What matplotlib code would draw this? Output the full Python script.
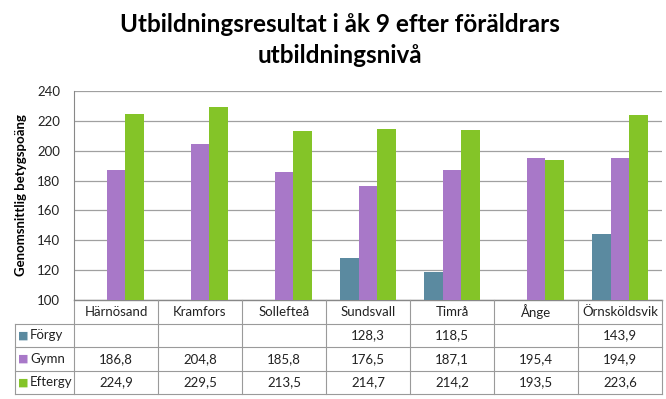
import matplotlib.pyplot as plt
import matplotlib.transforms as mtransforms
import numpy as np

# Data
kommuner = ['Härnösand', 'Kramfors', 'Sollefteå', 'Sundsvall', 'Timrå', 'Ånge', 'Örnsköldsvik']
forgy = [np.nan, np.nan, np.nan, 128.3, 118.5, np.nan, 143.9]
gymn = [186.8, 204.8, 185.8, 176.5, 187.1, 195.4, 194.9]
eftergy = [224.9, 229.5, 213.5, 214.7, 214.2, 193.5, 223.6]
serier = ['Förgy', 'Gymn', 'Eftergy']
farger = ['#5B8AA0', '#A878C8', '#84C428']

plt.rcParams['font.family'] = ['Lato', 'DejaVu Sans']

fig = plt.figure(figsize=(6.66, 3.99), dpi=100)
ax = fig.add_axes([74/666, 1 - 300/399, 588/666, 209/399])

x = np.arange(len(kommuner))
w = 0.22
for i, (vals, col) in enumerate(zip([forgy, gymn, eftergy], farger)):
	ax.bar(x + (i - 1) * w, vals, width=w, color=col, bottom=0, zorder=3)

ax.set_xlim(-0.5, len(kommuner) - 0.5)
ax.set_ylim(100, 240)
ax.set_yticks(np.arange(100, 241, 20))
ax.yaxis.grid(True, color='#a0a0a0', linewidth=0.9, zorder=0)
for s in ['top', 'right', 'bottom']:
	ax.spines[s].set_visible(False)
ax.spines['left'].set_color('#888888')
ax.set_xticks([])
ax.tick_params(axis='y', length=0, labelsize=9.5, pad=10, labelcolor='#222222')
ax.set_ylabel('Genomsnittlig betygspoäng', fontsize=9.5, fontweight='bold')
ax.yaxis.set_label_coords(-0.08, 0.5)

# Data table under the chart
trans = mtransforms.blended_transform_factory(ax.transData, ax.transAxes)
rad_h = 23.5 / 209
rader = [0, -rad_h, -2 * rad_h, -3 * rad_h, -4 * rad_h]
lc = '#9a9a9a'
left_x = -0.5 - (74 - 15) / 84
ax.plot([-0.5, 6.5], [0, 0], transform=trans, color='#888888', lw=1, clip_on=False)
for y in rader[1:]:
	ax.plot([left_x, 6.5], [y, y], transform=trans, color=lc, lw=0.8, clip_on=False)
for xv in np.arange(-0.5, 7.0, 1):
	ax.plot([xv, xv], [0, rader[-1]], transform=trans, color=lc, lw=0.8, clip_on=False)
ax.plot([left_x, left_x], [rader[1], rader[-1]], transform=trans, color=lc, lw=0.8, clip_on=False)

for j, k in enumerate(kommuner):
	ax.text(j, rad_h * -0.5, k, transform=trans, ha='center', va='center', fontsize=9.5, color='#222222')

for i, (namn, vals, col) in enumerate(zip(serier, [forgy, gymn, eftergy], farger)):
	yc = rader[i + 1] - rad_h / 2
	ax.text(left_x + 0.04, yc, '\u25a0', transform=trans, ha='left', va='center', fontsize=8, color=col,
		family='DejaVu Sans')
	ax.text(left_x + 0.18, yc, namn, transform=trans, ha='left', va='center', fontsize=9.5, color='#222222')
	for j, v in enumerate(vals):
		if not np.isnan(v):
			ax.text(j, yc, ('%.1f' % v).replace('.', ','), transform=trans, ha='center', va='center',
				fontsize=9.5, color='#222222')

fig.text(0.511, 0.938, 'Utbildningsresultat i åk 9 efter föräldrars', ha='center', va='center',
	fontsize=17.5, fontweight='bold')
fig.text(0.511, 0.862, 'utbildningsnivå', ha='center', va='center', fontsize=17.5, fontweight='bold')

plt.savefig('out.png', dpi=100)
